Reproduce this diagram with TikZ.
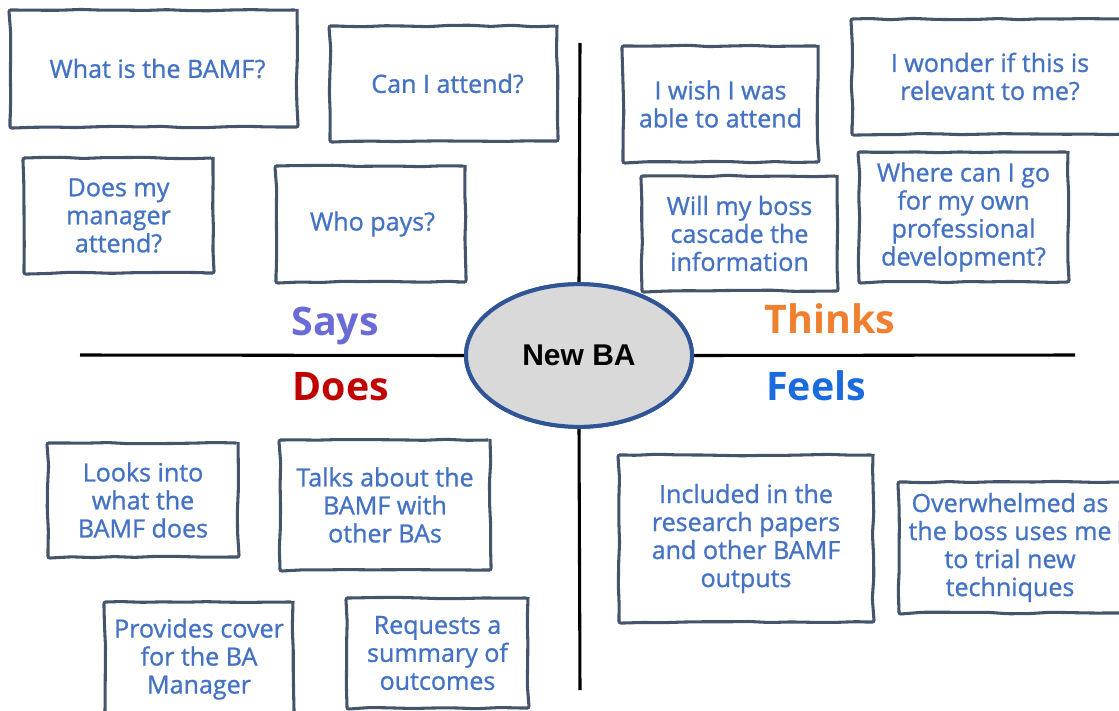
\documentclass[tikz,border=0pt]{standalone}
\usepackage{fontspec}
\setmainfont{Open Sans}
\newfontfamily\cardfont{Open Sans}[RawFeature={embolden=1.0}]
\newfontfamily\arialfont{Liberation Sans}
\usetikzlibrary{decorations.pathmorphing,shapes.geometric}
\definecolor{txt}{HTML}{4472C4}
\definecolor{cardline}{HTML}{44546A}
\definecolor{ellfill}{HTML}{D9D9D9}
\definecolor{elldraw}{HTML}{2F5597}
\definecolor{sayscol}{HTML}{6B6BD6}
\definecolor{thinkscol}{HTML}{F08030}
\definecolor{doescol}{HTML}{C00000}
\definecolor{feelscol}{HTML}{1A6AE0}
\begin{document}
\pgfmathsetseed{7}
\begin{tikzpicture}[x=0.75pt,y=-0.75pt,
  card/.style={draw=cardline, line width=2.3pt, fill=white, inner sep=0pt,
    align=center, text=txt, font=\cardfont\fontsize{18.8}{21}\selectfont,
    decorate, decoration={random steps, segment length=16pt, amplitude=0.6pt},
    rounded corners=1.5pt},
  heading/.style={anchor=base, font=\bfseries\fontsize{29.5}{35}\selectfont},
  axis/.style={line width=2.3pt, black}]
\useasboundingbox (0,0) rectangle (1119,710);
% axes
\coordinate (top) at (580,43);
\coordinate (bottom) at (580,690);
\coordinate (left) at (80,355);
\coordinate (right) at (1075,355);
\node[ellipse, draw=elldraw, fill=ellfill, line width=3pt,
  minimum width=169.5pt, minimum height=107pt, inner sep=0pt] (ba) at (579,355.5) {};
\draw[axis] (ba.north) -- (top);
\draw[axis] (ba.south) -- (bottom);
\draw[axis] (ba.west) -- (left);
\draw[axis] (ba.east) -- (right);
\node[ellipse, draw=elldraw, fill=ellfill, line width=3pt,
  minimum width=169.5pt, minimum height=107pt, inner sep=0pt,
  font=\arialfont\bfseries\fontsize{22.5}{26}\selectfont] (ba2) at (579,355.5) {New BA};
% headings
\node[heading, text=sayscol] (says) at (335,335) {Says};
\node[heading, text=thinkscol] (thinks) at (830,333) {Thinks};
\node[heading, text=doescol] (does) at (341,400) {Does};
\node[heading, text=feelscol] (feels) at (816,400) {Feels};
% Says
\node[card, minimum width=215.25pt, minimum height=87.75pt] (b1) at (153.5,68.5) {\hspace*{6pt}What is the BAMF?};
\node[card, minimum width=170.25pt, minimum height=86.25pt] (b2) at (443.5,83.5) {\hspace*{6pt}Can I attend?};
\node[card, minimum width=141.75pt, minimum height=86.25pt] (b3) at (118.5,215.5) {Does my\\manager\\attend?};
\node[card, minimum width=141.75pt, minimum height=87pt] (b4) at (370.5,224) {\hspace*{3pt}Who pays?};
% Thinks
\node[card, minimum width=146.25pt, minimum height=87pt] (b5) at (720.5,104) {I wish I was\\able to attend};
\node[card, minimum width=207pt, minimum height=86.25pt] (b6) at (990,76.5) {I wonder if this is\\relevant to me?};
\node[card, minimum width=146.25pt, minimum height=86.25pt] (b7) at (739.5,233.5) {Will my boss\\cascade the\\information};
\node[card, minimum width=156.75pt, minimum height=97.5pt] (b8) at (963.5,217) {Where can I go\\for my own\\professional\\development?};
% Does
\node[card, minimum width=142.5pt, minimum height=85.5pt] (b9) at (143,500) {Looks into\\what the\\BAMF does};
\node[card, minimum width=157.5pt, minimum height=97.5pt] (b10) at (385,505) {Talks about the\\BAMF with\\other BAs};
\node[card, minimum width=141pt, minimum height=85.5pt] (b13) at (199,659) {Provides cover\\for the BA\\Manager};
\node[card, minimum width=135.75pt, minimum height=82.5pt] (b14) at (437.5,653) {Requests a\\summary of\\outcomes};
% Feels
\node[card, minimum width=190.5pt, minimum height=125.25pt] (b11) at (746,538.5) {Included in the\\research papers\\and other BAMF\\outputs};
\node[card, minimum width=166.5pt, minimum height=98.25pt] (b12) at (1010,547.5) {Overwhelmed as\\the boss uses me\\to trial new\\techniques};
\end{tikzpicture}
\end{document}
